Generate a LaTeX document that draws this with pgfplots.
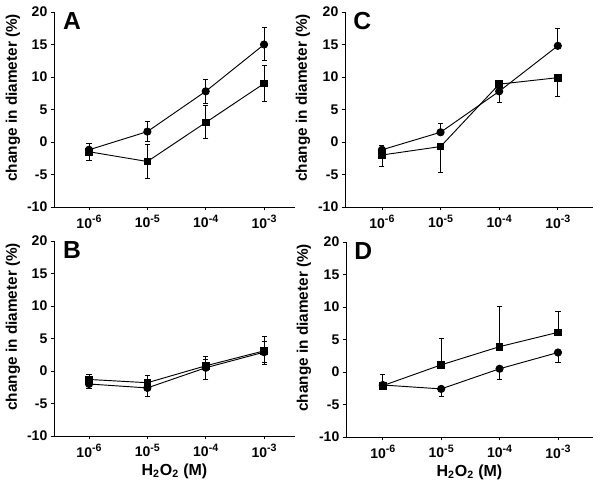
\documentclass[border=0pt]{standalone}
\usepackage{pgfplots}
\pgfplotsset{compat=1.18}
\usepackage{fontspec}
\setmainfont{Liberation Sans}

\tikzset{letter/.style={anchor=north west, inner sep=0pt, font=\bfseries\fontsize{18.5}{19}\selectfont}}
\newcommand{\sx}[1]{10\raisebox{0.75ex}{\fontsize{8}{8}\selectfont #1}}
\pgfplotsset{
  panel/.style={
    scale only axis,
    height=146.25pt,
    axis lines*=left,
    axis line style={line width=0.7pt},
    ymin=-10, ymax=20,
    ytick={-10,-5,0,5,10,15,20},
    yticklabels={-10,-5,0,5,10,15,20},
    xtick={0,1,2,3},
    xticklabels={\sx{-6},\sx{-5},\sx{-4},\sx{-3}},
    every tick label/.append style={font=\bfseries\fontsize{10.5}{11}\selectfont},
    yticklabel style={xshift=1pt},
    tick align=outside,
    major tick length=2.5pt,
    tick style={line width=0.6pt, black},
    ylabel={change in diameter (\%)},
    ylabel style={font=\bfseries\fontsize{11.5}{12}\selectfont, at={(axis description cs:-0.17,0.56)}, anchor=center},
    xlabel style={font=\bfseries\fontsize{12}{13}\selectfont, at={(axis description cs:0.5,-0.18)}, anchor=center},
    clip=false,
  },
  ser/.style={black, line width=0.7pt,
    error bars/y dir=both, error bars/y explicit,
    error bars/error bar style={line width=0.6pt, black},
    error bars/error mark options={rotate=90, mark size=1.9pt, line width=0.6pt, black}},
  circ/.style={mark=*, mark size=2.7pt, mark options={solid, fill=black}},
  sq/.style={mark=square*, mark size=2.5pt, mark options={solid, fill=black}},
}

\begin{document}
\begin{tikzpicture}
\path[use as bounding box] (0,0) rectangle (450pt,-365.25pt);

% Panel A
\begin{axis}[panel, at={(40.5pt,-155.25pt)}, anchor=south west, width=180.75pt, xmin=-0.6, xmax=3.53]
\addplot[ser, circ] table[x=x, y=y, y error plus=ep, y error minus=em, row sep=\\] {
x y ep em \\
0 -1.2 1.0 0 \\
1 1.6 1.5 1.5 \\
2 7.8 1.8 1.8 \\
3 15.0 2.7 2.5 \\
};
\addplot[ser, sq] table[x=x, y=y, y error plus=ep, y error minus=em, row sep=\\] {
x y ep em \\
0 -1.5 0 1.3 \\
1 -3.0 2.7 2.6 \\
2 3.0 2.7 2.5 \\
3 9.0 2.8 2.7 \\
};
\node[letter] at (rel axis cs:0.037,1) {A};
\end{axis}

% Panel C
\begin{axis}[panel, at={(258.75pt,-155.25pt)}, anchor=south west, width=186pt, xmin=-0.63, xmax=3.6]
\addplot[ser, circ] table[x=x, y=y, y error plus=ep, y error minus=em, row sep=\\] {
x y ep em \\
0 -1.2 0.7 0 \\
1 1.5 1.3 0 \\
2 7.8 0 1.7 \\
3 14.8 2.7 0 \\
};
\addplot[ser, sq] table[x=x, y=y, y error plus=ep, y error minus=em, row sep=\\] {
x y ep em \\
0 -2.0 0 1.7 \\
1 -0.7 0 4.0 \\
2 8.9 0.5 0 \\
3 9.9 0 2.9 \\
};
\node[letter] at (rel axis cs:0.033,1) {C};
\end{axis}

% Panel B
\begin{axis}[panel, at={(40.5pt,-327pt)}, anchor=south west, width=180.75pt, xmin=-0.6, xmax=3.53,
  xlabel={H\textsubscript{2}O\textsubscript{2} (M)}]
\addplot[ser, circ] table[x=x, y=y, y error plus=ep, y error minus=em, row sep=\\] {
x y ep em \\
0 -2.0 0 0.7 \\
1 -2.6 0 1.3 \\
2 0.5 1.3 1.8 \\
3 2.9 1.7 1.5 \\
};
\addplot[ser, sq] table[x=x, y=y, y error plus=ep, y error minus=em, row sep=\\] {
x y ep em \\
0 -1.3 0.8 0 \\
1 -1.8 1.2 0 \\
2 0.8 1.5 0 \\
3 3.1 2.2 2.1 \\
};
\node[letter] at (rel axis cs:0.037,1) {B};
\end{axis}

% Panel D
\begin{axis}[panel, at={(259.5pt,-327.75pt)}, anchor=south west, width=185.25pt, xmin=-0.63, xmax=3.6,
  xlabel={H\textsubscript{2}O\textsubscript{2} (M)}]
\addplot[ser, circ] table[x=x, y=y, y error plus=ep, y error minus=em, row sep=\\] {
x y ep em \\
0 -2.0 0 0 \\
1 -2.6 0 1.2 \\
2 0.5 0 1.7 \\
3 3.0 0 1.5 \\
};
\addplot[ser, sq] table[x=x, y=y, y error plus=ep, y error minus=em, row sep=\\] {
x y ep em \\
0 -2.1 1.8 0 \\
1 1.1 4.1 0 \\
2 3.9 6.2 0 \\
3 6.1 3.2 0 \\
};
\node[letter] at (rel axis cs:0.033,1) {D};
\end{axis}
\end{tikzpicture}
\end{document}
